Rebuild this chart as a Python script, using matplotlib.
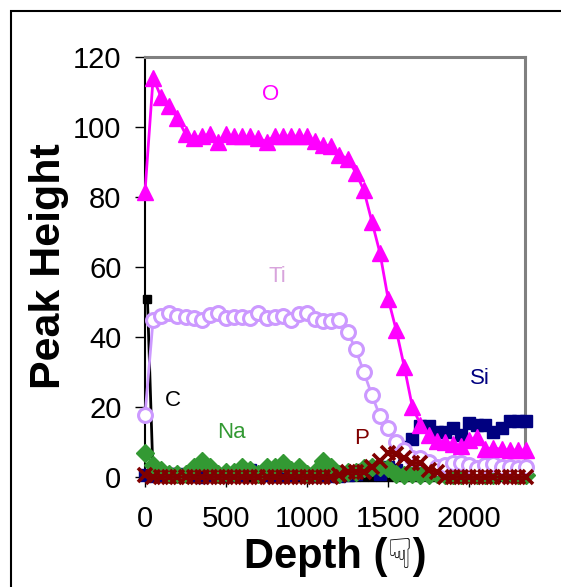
import matplotlib
matplotlib.use('Agg')
import matplotlib.pyplot as plt
from matplotlib.patches import Rectangle

# =============================================================================
# Data (depth step is 50)

depth = list(range(0, 2400, 50))

o_vals = [81.5, 114, 108.5, 106, 102.5, 98, 97, 97.3, 98, 95.8, 98, 97.3, 97.3, 97.3, 96.8, 95.8,
          97.5, 97.3, 97.5, 97.3, 97.3, 96, 95, 94.5, 92, 91, 87, 82, 73, 64,
          51, 42, 31.5, 20, 15, 12, 10.3, 10, 9.5, 9, 10.5, 11.5, 8, 8.3, 7.9, 7.7, 7.7, 7.7]
ti_vals = [17.7, 45, 46, 47, 46, 45.7, 45.3, 45, 46.3, 47, 45.4, 45.6, 45.6, 45.3, 47, 45.4,
           45.6, 46, 44.9, 46.6, 47, 45.2, 44.7, 44.5, 45, 41.5, 36.5, 30, 23.4, 17.4,
           14, 10, 7.7, 5.4, 5.4, 4.4, 3, 3.4, 4, 3.9, 3.3, 2.5, 3.3, 3.7, 3, 2.8, 2.5, 2.8]
si_vals = [0.5, 0.3, 0.5, 0.8, 1, 0.5, 0.2, 0, 0.5, 0.3, 0.2, 0.5, 0.5, 2, 1, 0.5,
           0.2, 0.3, 0.5, 0.8, 0.5, 0.2, 0.5, 0.3, 0.2, 0.5, 1, 2, 3, 1,
           3, 2, 8.7, 11, 14.5, 14.5, 13, 13, 14, 12, 15.5, 15, 15, 13, 14, 16, 16, 16]
na_vals = [7, 3.5, 2, 1, 1, 1, 3, 4.5, 3, 1, 1.5, 1.5, 3, 2, 1, 3,
           3, 4, 2, 3, 1, 1.5, 4.5, 3, 1, 1.5, 1.5, 2.5, 3, 3,
           2.5, 1, 0.5, 0.8, 0.5, 0.5, 1, 0.5, 0.5, 0.5, 0.8, 0.5, 0.5, 0.5, 1.5, 1.5, 0.5, 0.5]
p_vals = [0.5, 0, 0, 0, 0, 0, 0, 0, 0, 0, 0, 0, 0, 0, 0, 0,
          0, 0, 0, 0, 0, 0, 0, 0, 0.5, 1.5, 1.5, 1.5, 3, 4.5,
          7, 6.5, 5.5, 4, 4, 2, 1.5, 0, 0, 0, 0, 0, 0, 0, 0, 0, 0, 0]
c_depth = [15] + depth[1:]
c_vals = [51] + [0] * 47

y_ticks = [0, 20, 40, 60, 80, 100, 120]
x_ticks = [0, 500, 1000, 1500, 2000]

# name, x px, y px, colour
labels = [('O', 271, 95, '#ff00ff'), ('Ti', 277, 277, '#d8a4dc'), ('C', 173, 401, '#000000'),
          ('Na', 231, 432, '#339933'), ('P', 362, 439, '#800000'), ('Si', 480, 378, '#000080')]

# =============================================================================

W, H = 561, 587
plt.rcParams['font.family'] = ['Liberation Sans', 'DejaVu Sans']

f = plt.figure(figsize=(W / 100, H / 100), dpi=100)
f.add_artist(Rectangle((11 / W, -0.1), 1.2, 1 + 0.1 - 11 / H, transform=f.transFigure,
                       fill=False, ec='black', lw=1.5))

ax = f.add_axes([145 / W, 1 - 477 / H, 380 / W, 420 / H])
ax.set_xlim(0, 2345)
ax.set_ylim(0, 120)

ax.plot(c_depth, c_vals, '-s', color='black', ms=6, lw=2, clip_on=False, zorder=3)
ax.plot(depth, si_vals, '-s', color='#000080', ms=8.6, lw=2, clip_on=False, zorder=3.1)
ax.plot(depth, na_vals, '-D', color='#339933', ms=9.5, lw=2, clip_on=False, zorder=3.2)
ax.plot(depth, ti_vals, '-o', color='#cc99ff', mfc='white', mew=2.2, ms=10, lw=2, clip_on=False, zorder=3.3)
ax.plot(depth, o_vals, '-^', color='#ff00ff', ms=11.5, lw=2, clip_on=False, zorder=3.4)
ax.plot(depth, p_vals, '-x', color='#800000', ms=10, mew=2.6, lw=2, clip_on=False, zorder=3.5)

for s in ['top', 'right']:
    ax.spines[s].set_color('#808080')
    ax.spines[s].set_linewidth(2.2)
for s in ['left', 'bottom']:
    ax.spines[s].set_linewidth(1.5)

ax.set_xticks(x_ticks)
ax.set_yticks(y_ticks)
ax.tick_params(axis='y', length=7, width=1, labelsize=21, pad=10)
ax.tick_params(axis='x', length=7, width=1, labelsize=21, pad=13)

for name, x, y, col in labels:
    f.text(x / W, 1 - y / H, name, color=col, fontsize=16, ha='center', va='center')

f.text(49 / W, 1 - 266 / H, 'Peak Height', fontsize=31, fontweight='bold', rotation=90,
       ha='center', va='center')
f.text(335 / W, 1 - 557 / H, 'Depth (\u261f)', fontsize=30, fontweight='bold',
       ha='center', va='center')

f.savefig('out.png', dpi=100)
